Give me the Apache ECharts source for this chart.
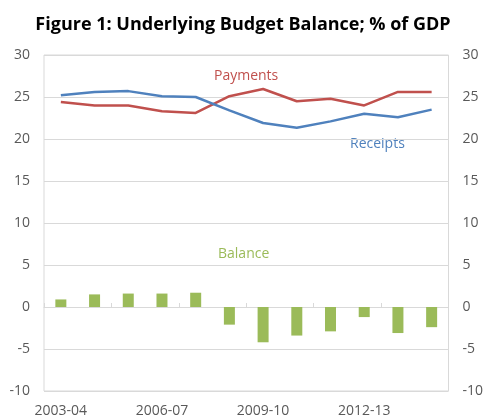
<!DOCTYPE html>
<html>
<head>
<meta charset="utf-8">
<script src="https://cdn.jsdelivr.net/npm/echarts@6/dist/echarts.min.js"></script>
<style>
  html, body { margin: 0; padding: 0; background: #fff; }
  #chart { width: 486px; height: 418px; }
</style>
</head>
<body>
<div id="chart"></div>
<script>
// Financial years
const years = ['2003-04', '2004-05', '2005-06', '2006-07', '2007-08', '2008-09',
               '2009-10', '2010-11', '2011-12', '2012-13', '2013-14', '2014-15'];
// Per cent of GDP
const receipts = [25.2, 25.6, 25.7, 25.1, 25.0, 23.4, 21.9, 21.35, 22.1, 23.0, 22.6, 23.5];
const payments = [24.4, 24.0, 24.0, 23.3, 23.1, 25.1, 25.95, 24.5, 24.8, 24.0, 25.6, 25.6];
const balance  = [0.9, 1.5, 1.6, 1.6, 1.7, -2.1, -4.2, -3.4, -2.9, -1.2, -3.1, -2.4];
// Value axis ticks
const yTicks = [-10, -5, 0, 5, 10, 15, 20, 25, 30];
const shownYears = ['2003-04', '2006-07', '2009-10', '2012-13'];

const FONT = 'Open Sans';
const GREY = '#595959';
const GRID_LINE = '#d9d9d9';
const RED = '#C0504D', BLUE = '#4F81BD', GREEN = '#9BBB59';

const chart = echarts.init(document.getElementById('chart'), null, { renderer: 'canvas' });

const valueAxis = (pos) => ({
  type: 'value',
  position: pos,
  min: yTicks[0],
  max: yTicks[yTicks.length - 1],
  interval: 5,
  axisLine: { show: false },
  axisTick: { show: false },
  splitLine: { show: pos === 'left', lineStyle: { color: GRID_LINE, width: 1 } },
  axisLabel: { color: GREY, fontFamily: FONT, fontSize: 14, margin: 14 }
});

chart.setOption({
  animation: false,
  title: {
    text: 'Figure 1: Underlying Budget Balance; % of GDP',
    left: 'center',
    top: 11,
    textStyle: { fontFamily: FONT, fontWeight: 'bold', fontSize: 18, color: '#000' }
  },
  grid: {
    left: 44, right: 37, top: 55, bottom: 27,
    show: true, borderColor: GRID_LINE, borderWidth: 1, backgroundColor: 'transparent'
  },
  xAxis: [
    {
      type: 'category',
      data: years,
      position: 'bottom',
      axisLine: { show: false },
      axisTick: { show: false },
      axisLabel: {
        color: GREY, fontFamily: FONT, fontSize: 14, margin: 13,
        interval: 0,
        formatter: (v) => shownYears.includes(v) ? v : ''
      }
    },
    {
      type: 'category',
      data: years,
      position: 'bottom',
      axisLine: { show: true, onZero: true, lineStyle: { color: GRID_LINE, width: 1 } },
      axisTick: { show: true, length: 4, inside: true, lineStyle: { color: GRID_LINE } },
      axisLabel: { show: false }
    }
  ],
  yAxis: [valueAxis('left'), valueAxis('right')],
  series: [
    {
      name: 'Balance', type: 'bar', data: balance,
      xAxisIndex: 1, yAxisIndex: 0, barWidth: 11,
      itemStyle: { color: GREEN }
    },
    {
      name: 'Payments', type: 'line', data: payments,
      xAxisIndex: 0, yAxisIndex: 0, symbol: 'none',
      lineStyle: { color: RED, width: 2.5 }
    },
    {
      name: 'Receipts', type: 'line', data: receipts,
      xAxisIndex: 0, yAxisIndex: 0, symbol: 'none',
      lineStyle: { color: BLUE, width: 2.5 }
    }
  ],
  graphic: [
    { type: 'text', left: 214, top: 69, style: { text: 'Payments', fill: RED, font: '14px "Open Sans"' } },
    { type: 'text', left: 350, top: 137, style: { text: 'Receipts', fill: BLUE, font: '14px "Open Sans"' } },
    { type: 'text', left: 218, top: 247, style: { text: 'Balance', fill: GREEN, font: '14px "Open Sans"' } }
  ]
});
</script>
</body>
</html>
